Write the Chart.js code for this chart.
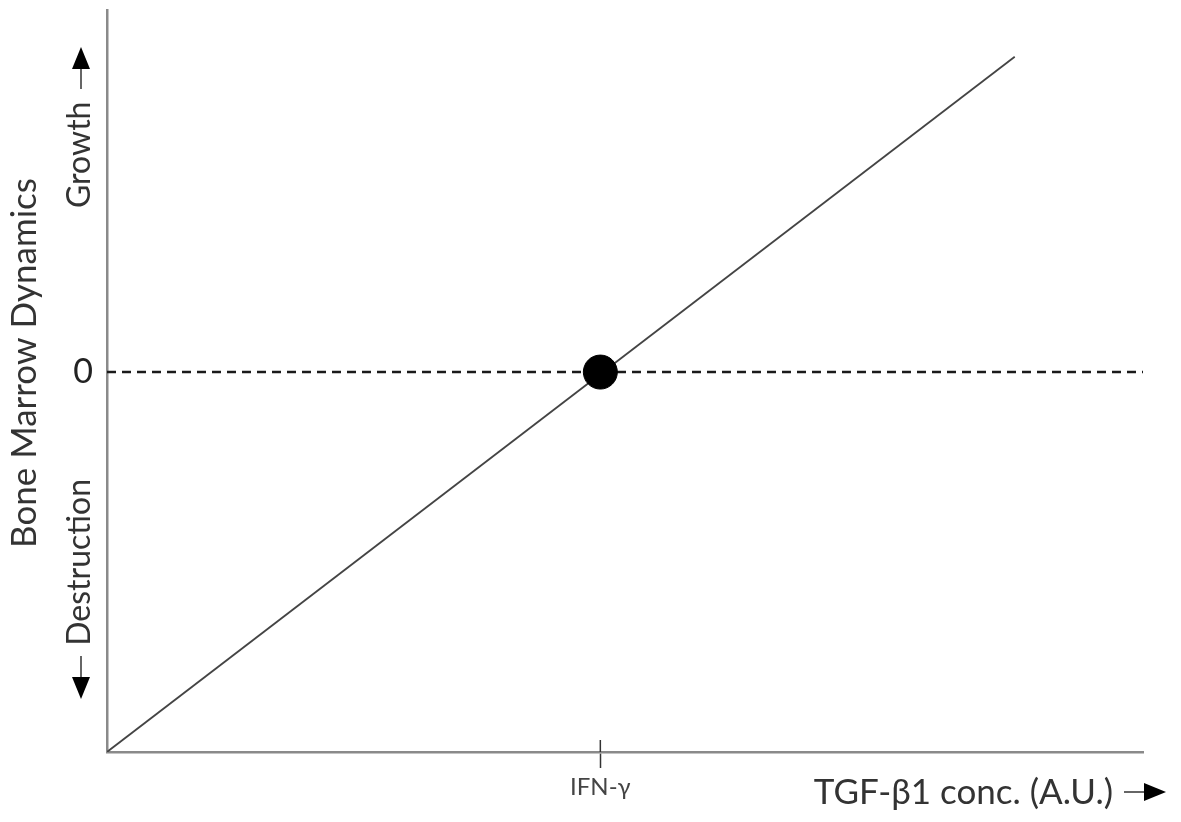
<!DOCTYPE html>
<html>
<head>
<meta charset="utf-8">
<script src="https://cdn.jsdelivr.net/npm/chart.js@4"></script>
<style>
  html, body { margin: 0; padding: 0; background: #fff; }
  #wrap { width: 1181px; height: 822px; }
</style>
</head>
<body>
<div id="wrap"><canvas id="chart"></canvas></div>
<script>
// values (x: IFN-gamma level = 1, y: 0 = balance)
const lineX = [0, 1.84];
const lineY = [-1, 0.83];
const pointX = [1];
const pointY = [0];
const zeroX = [0, 2.1];
const zeroY = [0, 0];
const xTicks = [1];
const xTickLabels = ['IFN-γ'];
const yTicks = [0];
const yTickLabels = ['0'];

const FONT = 'Lato, "Open Sans", sans-serif';

// titles, arrows and side labels
const annotations = {
    id: 'annotations',
    afterDraw(chart) {
        const ctx = chart.ctx;
        ctx.save();
        ctx.fillStyle = '#333';
        ctx.strokeStyle = '#333';
        ctx.lineWidth = 1.5;

        // x title with arrow
        ctx.font = '35px ' + FONT;
        ctx.textAlign = 'right';
        ctx.textBaseline = 'middle';
        ctx.fillText('TGF-β1 conc. (A.U.)', 1113, 793);
        ctx.beginPath(); ctx.moveTo(1124, 792); ctx.lineTo(1147, 792); ctx.stroke();
        ctx.fillStyle = '#000';
        ctx.beginPath(); ctx.moveTo(1144, 783); ctx.lineTo(1166, 792); ctx.lineTo(1144, 801); ctx.closePath(); ctx.fill();

        // rotated texts
        ctx.fillStyle = '#333';
        ctx.save();
        ctx.translate(25, 363);
        ctx.rotate(-Math.PI / 2);
        ctx.textAlign = 'center';
        ctx.textBaseline = 'middle';
        ctx.font = '35px ' + FONT;
        ctx.fillText('Bone Marrow Dynamics', 0, 0);
        ctx.restore();

        ctx.font = '32px ' + FONT;
        ctx.save();
        ctx.translate(80, 0);
        ctx.rotate(-Math.PI / 2);
        ctx.textBaseline = 'middle';
        ctx.textAlign = 'left';
        ctx.fillText('Growth', -208, 0);
        ctx.textAlign = 'right';
        ctx.fillText('Destruction', -479, 0);
        ctx.restore();

        ctx.beginPath(); ctx.moveTo(81, 89); ctx.lineTo(81, 66); ctx.stroke();
        ctx.beginPath(); ctx.moveTo(81, 656); ctx.lineTo(81, 680); ctx.stroke();
        ctx.fillStyle = '#000';
        ctx.beginPath(); ctx.moveTo(72, 69); ctx.lineTo(81, 47); ctx.lineTo(90, 69); ctx.closePath(); ctx.fill();
        ctx.beginPath(); ctx.moveTo(72, 677); ctx.lineTo(81, 699); ctx.lineTo(90, 677); ctx.closePath(); ctx.fill();

        // upper half of the IFN-γ tick
        const px = chart.scales.x.getPixelForValue(xTicks[0]);
        ctx.strokeStyle = '#333';
        ctx.lineWidth = 1.5;
        ctx.beginPath(); ctx.moveTo(px, 740); ctx.lineTo(px, 752); ctx.stroke();
        ctx.restore();
    }
};

new Chart(document.getElementById('chart'), {
    type: 'scatter',
    data: {
        datasets: [
            {
                label: 'zero',
                data: zeroX.map((x, i) => ({ x: x, y: zeroY[i] })),
                showLine: true,
                borderColor: '#1a1a1a',
                borderWidth: 2.5,
                borderDash: [9, 6],
                pointRadius: 0,
                order: 3
            },
            {
                label: 'TGF-β1',
                data: lineX.map((x, i) => ({ x: x, y: lineY[i] })),
                showLine: true,
                borderColor: '#444',
                borderWidth: 1.8,
                pointRadius: 0,
                order: 2
            },
            {
                label: 'IFN-γ',
                data: pointX.map((x, i) => ({ x: x, y: pointY[i] })),
                pointRadius: 17,
                pointBackgroundColor: '#000',
                pointBorderColor: '#000',
                order: 1
            }
        ]
    },
    options: {
        responsive: true,
        maintainAspectRatio: false,
        animation: false,
        layout: { autoPadding: false, padding: { top: 10, right: 38, left: 0, bottom: 0 } },
        plugins: {
            legend: { display: false },
            tooltip: { enabled: false }
        },
        scales: {
            x: {
                type: 'linear',
                min: 0,
                max: 2.1,
                afterBuildTicks: (s) => { s.ticks = xTicks.map(v => ({ value: v })); },
                afterFit: (s) => { s.height = 70; s.paddingLeft = 0; s.paddingRight = 0; },
                grid: {
                    drawOnChartArea: false,
                    drawTicks: true,
                    tickLength: 16,
                    tickWidth: 1.5,
                    tickColor: '#333'
                },
                border: { color: '#8a8a8a', width: 2.5 },
                ticks: {
                    padding: 5,
                    color: '#444',
                    font: { family: FONT, size: 24 },
                    maxRotation: 0,
                    callback: (v) => xTickLabels[xTicks.indexOf(v)]
                }
            },
            y: {
                type: 'linear',
                min: -1,
                max: 0.953,
                afterBuildTicks: (s) => { s.ticks = yTicks.map(v => ({ value: v })); },
                afterFit: (s) => { s.width = 107; s.paddingTop = 0; s.paddingBottom = 0; },
                grid: { display: false },
                border: { color: '#8a8a8a', width: 2.5 },
                ticks: {
                    padding: 6,
                    color: '#222',
                    font: { family: FONT, size: 34 },
                    callback: (v) => yTickLabels[yTicks.indexOf(v)]
                }
            }
        }
    },
    plugins: [annotations]
});
</script>
</body>
</html>
